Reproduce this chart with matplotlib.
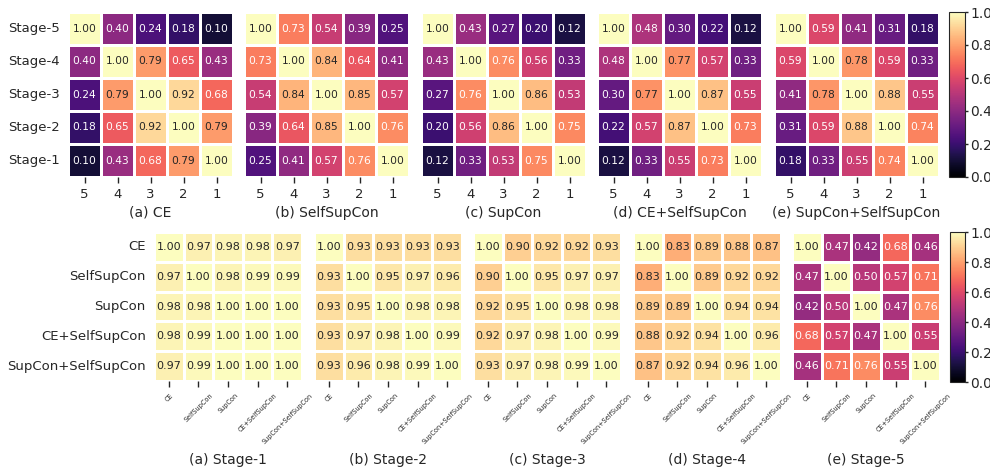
import numpy as np
import matplotlib
matplotlib.use('Agg')
import matplotlib.pyplot as plt
import seaborn as sns

sns.set_style('ticks')
plt.rcParams['font.family'] = ['DejaVu Sans']

# top row: similarity between stages, per method
stage_labels = ['Stage-5', 'Stage-4', 'Stage-3', 'Stage-2', 'Stage-1']
stage_ticks = ['5', '4', '3', '2', '1']
method_titles = ['(a) CE', '(b) SelfSupCon', '(c) SupCon',
                 '(d) CE+SelfSupCon', '(e) SupCon+SelfSupCon']

ce = [[1.00, 0.40, 0.24, 0.18, 0.10],
      [0.40, 1.00, 0.79, 0.65, 0.43],
      [0.24, 0.79, 1.00, 0.92, 0.68],
      [0.18, 0.65, 0.92, 1.00, 0.79],
      [0.10, 0.43, 0.68, 0.79, 1.00]]
selfsupcon = [[1.00, 0.73, 0.54, 0.39, 0.25],
              [0.73, 1.00, 0.84, 0.64, 0.41],
              [0.54, 0.84, 1.00, 0.85, 0.57],
              [0.39, 0.64, 0.85, 1.00, 0.76],
              [0.25, 0.41, 0.57, 0.76, 1.00]]
supcon = [[1.00, 0.43, 0.27, 0.20, 0.12],
          [0.43, 1.00, 0.76, 0.56, 0.33],
          [0.27, 0.76, 1.00, 0.86, 0.53],
          [0.20, 0.56, 0.86, 1.00, 0.75],
          [0.12, 0.33, 0.53, 0.75, 1.00]]
ce_selfsupcon = [[1.00, 0.48, 0.30, 0.22, 0.12],
                 [0.48, 1.00, 0.77, 0.57, 0.33],
                 [0.30, 0.77, 1.00, 0.87, 0.55],
                 [0.22, 0.57, 0.87, 1.00, 0.73],
                 [0.12, 0.33, 0.55, 0.73, 1.00]]
supcon_selfsupcon = [[1.00, 0.59, 0.41, 0.31, 0.18],
                     [0.59, 1.00, 0.78, 0.59, 0.33],
                     [0.41, 0.78, 1.00, 0.88, 0.55],
                     [0.31, 0.59, 0.88, 1.00, 0.74],
                     [0.18, 0.33, 0.55, 0.74, 1.00]]

# bottom row: similarity between methods, per stage
method_labels = ['CE', 'SelfSupCon', 'SupCon', 'CE+SelfSupCon', 'SupCon+SelfSupCon']
stage_titles = ['(a) Stage-1', '(b) Stage-2', '(c) Stage-3', '(d) Stage-4', '(e) Stage-5']

stage1 = [[1.00, 0.97, 0.98, 0.98, 0.97],
          [0.97, 1.00, 0.98, 0.99, 0.99],
          [0.98, 0.98, 1.00, 1.00, 1.00],
          [0.98, 0.99, 1.00, 1.00, 1.00],
          [0.97, 0.99, 1.00, 1.00, 1.00]]
stage2 = [[1.00, 0.93, 0.93, 0.93, 0.93],
          [0.93, 1.00, 0.95, 0.97, 0.96],
          [0.93, 0.95, 1.00, 0.98, 0.98],
          [0.93, 0.97, 0.98, 1.00, 0.99],
          [0.93, 0.96, 0.98, 0.99, 1.00]]
stage3 = [[1.00, 0.90, 0.92, 0.92, 0.93],
          [0.90, 1.00, 0.95, 0.97, 0.97],
          [0.92, 0.95, 1.00, 0.98, 0.98],
          [0.92, 0.97, 0.98, 1.00, 0.99],
          [0.93, 0.97, 0.98, 0.99, 1.00]]
stage4 = [[1.00, 0.83, 0.89, 0.88, 0.87],
          [0.83, 1.00, 0.89, 0.92, 0.92],
          [0.89, 0.89, 1.00, 0.94, 0.94],
          [0.88, 0.92, 0.94, 1.00, 0.96],
          [0.87, 0.92, 0.94, 0.96, 1.00]]
stage5 = [[1.00, 0.47, 0.42, 0.68, 0.46],
          [0.47, 1.00, 0.50, 0.57, 0.71],
          [0.42, 0.50, 1.00, 0.47, 0.76],
          [0.68, 0.57, 0.47, 1.00, 0.55],
          [0.46, 0.71, 0.76, 0.55, 1.00]]

W, H = 990, 471
fig = plt.figure(figsize=(W / 100, H / 100), dpi=100)


def px_axes(x0, y0, w, h):
    # pixel box (top-left origin) -> figure axes
    return fig.add_axes([x0 / W, 1 - (y0 + h) / H, w / W, h / H])


TXT = '#262626'
sm = plt.cm.ScalarMappable(cmap='magma', norm=plt.Normalize(0, 1))

# top row
top_x = [68, 244, 421, 597, 774]
for i, (mat, title) in enumerate(zip(
        [ce, selfsupcon, supcon, ce_selfsupcon, supcon_selfsupcon], method_titles)):
    ax = px_axes(top_x[i], 12, 165, 165)
    sns.heatmap(np.array(mat), ax=ax, cmap='magma', vmin=0, vmax=1,
                annot=True, fmt='.2f', annot_kws={'fontsize': 7.7},
                linewidths=1, linecolor='white', cbar=False,
                xticklabels=stage_ticks,
                yticklabels=stage_labels if i == 0 else False)
    ax.tick_params(axis='x', length=4, width=1, labelsize=9.5, colors=TXT, pad=4)
    ax.tick_params(axis='y', length=0, labelsize=9.5, labelcolor=TXT, pad=6)
    plt.setp(ax.get_yticklabels(), rotation=0)
    fig.text((top_x[i] + 82.5) / W, 1 - 213 / H, title, ha='center', va='center',
             fontsize=10, color=TXT)

cax = px_axes(949, 12, 16, 165)
cb = fig.colorbar(sm, cax=cax, ticks=[0, 0.2, 0.4, 0.6, 0.8, 1.0])
cb.outline.set_linewidth(0.8)
cax.tick_params(length=2.5, width=1, labelsize=10, colors=TXT, pad=1.5)

# bottom row
bot_x = [154, 314, 473, 633, 792]
for i, (mat, title) in enumerate(zip(
        [stage1, stage2, stage3, stage4, stage5], stage_titles)):
    ax = px_axes(bot_x[i], 232, 148, 149)
    sns.heatmap(np.array(mat), ax=ax, cmap='magma', vmin=0, vmax=1,
                annot=True, fmt='.2f', annot_kws={'fontsize': 8},
                linewidths=1, linecolor='white', cbar=False,
                xticklabels=method_labels,
                yticklabels=method_labels if i == 0 else False)
    ax.tick_params(axis='x', length=4, width=1, labelsize=4.7, colors=TXT, pad=4)
    ax.tick_params(axis='y', length=0, labelsize=9.5, labelcolor=TXT, pad=6)
    plt.setp(ax.get_xticklabels(), rotation=45)
    plt.setp(ax.get_yticklabels(), rotation=0)
    fig.text((bot_x[i] + 74) / W, 1 - 460 / H, title, ha='center', va='center',
             fontsize=10, color=TXT)

cax2 = px_axes(950, 232, 15, 150)
cb2 = fig.colorbar(sm, cax=cax2, ticks=[0, 0.2, 0.4, 0.6, 0.8, 1.0])
cb2.outline.set_linewidth(0.8)
cax2.tick_params(length=2.5, width=1, labelsize=10, colors=TXT, pad=1.5)

fig.savefig('out.png', dpi=100)
